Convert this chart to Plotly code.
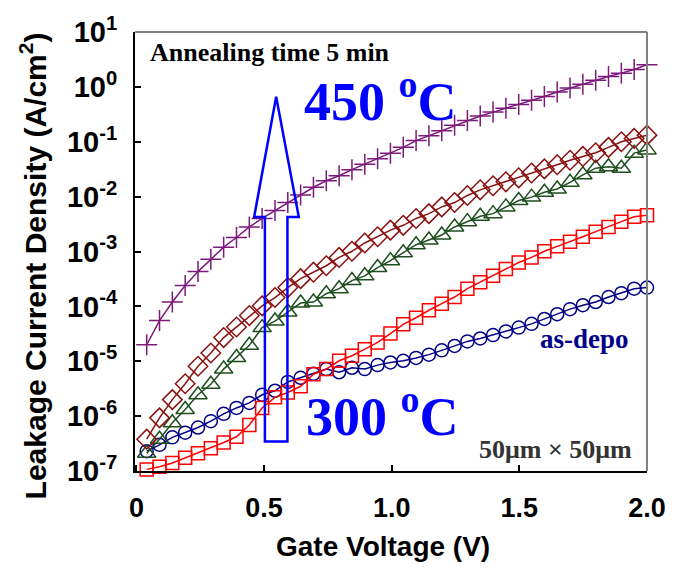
import numpy as np
import plotly.graph_objects as go

# Gate voltage sample points (V)
voltage = np.round(np.linspace(0.04, 2.0, 40), 4)

# Leakage current density (A/cm^2)
j_450 = [2.0e-5, 5.5e-5, 1.2e-4, 2.4e-4, 4.3e-4, 7.2e-4, 1.2e-3, 1.8e-3, 2.8e-3, 4.0e-3,
         5.6e-3, 7.8e-3, 1.07e-2, 1.48e-2, 1.95e-2, 2.4e-2, 3.1e-2, 3.9e-2, 4.9e-2, 6.2e-2,
         7.9e-2, 0.105, 0.129, 0.158, 0.20, 0.245, 0.295, 0.347, 0.407, 0.479,
         0.569, 0.668, 0.804, 0.955, 1.12, 1.32, 1.55, 1.78, 2.07, 2.54]
j_diamond = [3.8e-7, 9.3e-7, 2.0e-6, 3.9e-6, 8.1e-6, 1.41e-5, 2.7e-5, 4.2e-5, 6.8e-5, 1.02e-4,
             1.45e-4, 2.2e-4, 3.2e-4, 4.2e-4, 5.5e-4, 7.8e-4, 1.01e-3, 1.43e-3, 1.86e-3, 2.45e-3,
             3.0e-3, 4.0e-3, 4.9e-3, 6.5e-3, 7.8e-3, 1.05e-2, 1.33e-2, 1.58e-2, 1.86e-2, 2.2e-2,
             2.7e-2, 3.2e-2, 3.8e-2, 4.6e-2, 5.4e-2, 6.3e-2, 7.9e-2, 0.100, 0.115, 0.132]
j_triangle = [2.1e-7, 3.8e-7, 7.6e-7, 1.32e-6, 2.45e-6, 3.8e-6, 7.2e-6, 1.17e-5, 1.95e-5, 4.1e-5,
              5.4e-5, 7.9e-5, 1.15e-4, 1.2e-4, 1.7e-4, 2.1e-4, 2.95e-4, 3.6e-4, 5.1e-4, 6.8e-4,
              9.5e-4, 1.33e-3, 1.62e-3, 2.0e-3, 2.8e-3, 3.5e-3, 4.4e-3, 4.9e-3, 6.5e-3, 8.5e-3,
              9.8e-3, 1.2e-2, 1.38e-2, 1.82e-2, 2.5e-2, 3.3e-2, 3.5e-2, 3.3e-2, 6.2e-2, 7.1e-2]
j_300 = [1.07e-7, 1.2e-7, 1.4e-7, 1.74e-7, 2.1e-7, 2.6e-7, 3.3e-7, 4.2e-7, 6.9e-7, 1.41e-6,
         2.2e-6, 2.7e-6, 3.5e-6, 5.8e-6, 7.2e-6, 1.02e-5, 1.26e-5, 1.66e-5, 2.2e-5, 3.2e-5,
         4.7e-5, 6.2e-5, 8.5e-5, 1.12e-4, 1.48e-4, 2.1e-4, 2.75e-4, 3.6e-4, 4.8e-4, 6.3e-4,
         7.8e-4, 1.01e-3, 1.24e-3, 1.5e-3, 1.86e-3, 2.3e-3, 2.8e-3, 3.5e-3, 4.3e-3, 4.6e-3]
j_asdepo = [2.3e-7, 3.0e-7, 4.1e-7, 5.0e-7, 6.2e-7, 8.1e-7, 1.1e-6, 1.41e-6, 1.74e-6, 2.45e-6,
            2.9e-6, 4.2e-6, 5.0e-6, 5.9e-6, 7.2e-6, 6.3e-6, 7.6e-6, 7.2e-6, 8.5e-6, 9.5e-6,
            1.02e-5, 1.15e-5, 1.32e-5, 1.58e-5, 1.9e-5, 2.3e-5, 2.6e-5, 3.0e-5, 3.5e-5, 4.1e-5,
            4.8e-5, 5.9e-5, 7.2e-5, 8.9e-5, 1.05e-4, 1.2e-4, 1.48e-4, 1.74e-4, 2.1e-4, 2.2e-4]

series = [
    ("as-depo", j_asdepo, "#000088", "circle-open", 13),
    ("300 C", j_300, "#FF0000", "square-open", 13),
    ("triangle", j_triangle, "#1E4E1E", "triangle-up-open", 16),
    ("diamond", j_diamond, "#8B1010", "diamond-open", 15),
    ("450 C", j_450, "#7B1A7B", "cross-thin-open", 15),
]

ytick_vals = [1e-7, 1e-6, 1e-5, 1e-4, 1e-3, 1e-2, 1e-1, 1e0, 1e1]
ytick_text = ["10<sup>-7</sup>", "10<sup>-6</sup>", "10<sup>-5</sup>", "10<sup>-4</sup>",
              "10<sup>-3</sup>", "10<sup>-2</sup>", "10<sup>-1</sup>", "10<sup>0</sup>",
              "10<sup>1</sup>"]
xtick_vals = [0, 0.5, 1.0, 1.5, 2.0]
xtick_text = ["0", "0.5", "1.0", "1.5", "2.0"]

fig = go.Figure()
for name, vals, color, sym, size in series:
    fig.add_trace(go.Scatter(
        x=voltage, y=vals, name=name, mode="lines+markers",
        line=dict(color=color, width=1.5),
        marker=dict(symbol=sym, size=size, color=color, line=dict(color=color, width=1.5)),
        cliponaxis=False, showlegend=False,
    ))

sans = "Liberation Sans, Arial, sans-serif"
serif = "Liberation Serif, Times New Roman, serif"

fig.update_xaxes(range=[-0.0058, 2.0], tickvals=xtick_vals, ticktext=xtick_text,
                 ticks="inside", ticklen=6, tickwidth=1.5, tickcolor="black",
                 showline=True, linecolor="black", linewidth=2, showgrid=False, zeroline=False,
                 tickfont=dict(family=sans, size=27, color="black", weight="bold"),
                 ticklabelstandoff=12)
fig.update_yaxes(type="log", range=[-7, 1], tickvals=ytick_vals, ticktext=ytick_text,
                 ticks="inside", ticklen=6, tickwidth=1.5, tickcolor="black",
                 showline=True, linecolor="black", linewidth=2, showgrid=False, zeroline=False,
                 tickfont=dict(family=sans, size=29, color="black", weight="bold"),
                 ticklabelstandoff=10)

def px2paper(px, py):
    return (px - 135) / 523.0, (471 - py) / 448.0

# block arrow outline
pts = [(267.7, 441), (267.7, 211.7), (256.7, 211.7), (279.2, 89), (302.3, 211.7),
       (290.7, 211.7), (290.7, 441)]
pp = [px2paper(a, b) for a, b in pts]
path = "M " + " L ".join(f"{a:.4f},{b:.4f}" for a, b in pp) + " Z"

shapes = [
    dict(type="path", xref="paper", yref="paper", path=path,
         line=dict(color="#0000FF", width=2.5), fillcolor="rgba(0,0,0,0)"),
    dict(type="line", xref="paper", yref="paper", x0=0, x1=1, y0=1, y1=1,
         line=dict(color="#808080", width=2)),
    dict(type="line", xref="paper", yref="paper", x0=1, x1=1, y0=0, y1=1,
         line=dict(color="#808080", width=2)),
]

annotations = [
    dict(text="Annealing time 5 min", x=px2paper(148, 0)[0], y=px2paper(0, 44)[1],
         xanchor="left", yanchor="middle",
         font=dict(family=serif, size=26, color="black", weight="bold")),
    dict(text="450 <sup>o</sup>C", x=px2paper(306, 0)[0], y=px2paper(0, 90)[1],
         xanchor="left", yanchor="middle",
         font=dict(family=serif, size=54, color="#0000FF", weight="bold")),
    dict(text="300 <sup>o</sup>C", x=px2paper(308, 0)[0], y=px2paper(0, 411)[1],
         xanchor="left", yanchor="middle",
         font=dict(family=serif, size=54, color="#0000FF", weight="bold")),
    dict(text="as-depo", x=px2paper(547, 0)[0], y=px2paper(0, 336)[1],
         xanchor="left", yanchor="middle",
         font=dict(family=serif, size=27, color="#000088", weight="bold")),
    dict(text="50μm × 50μm", x=px2paper(484, 0)[0], y=px2paper(0, 449)[1],
         xanchor="left", yanchor="middle",
         font=dict(family=serif, size=26, color="#333333", weight="bold")),
    dict(text="Leakage Current Density (A/cm<sup>2</sup>)", x=px2paper(31, 0)[0],
         y=px2paper(0, 262)[1], xanchor="center", yanchor="middle", textangle=-90,
         font=dict(family=sans, size=30, color="black", weight="bold")),
    dict(text="Gate Voltage (V)", x=px2paper(388, 0)[0], y=px2paper(0, 548)[1],
         xanchor="center", yanchor="middle",
         font=dict(family=sans, size=28, color="black", weight="bold")),
]
for a in annotations:
    a.update(xref="paper", yref="paper", showarrow=False)

fig.update_layout(width=678, height=571, margin=dict(l=135, r=20, t=23, b=100),
                  paper_bgcolor="white", plot_bgcolor="white",
                  shapes=shapes, annotations=annotations)

fig.write_html("out.html")
